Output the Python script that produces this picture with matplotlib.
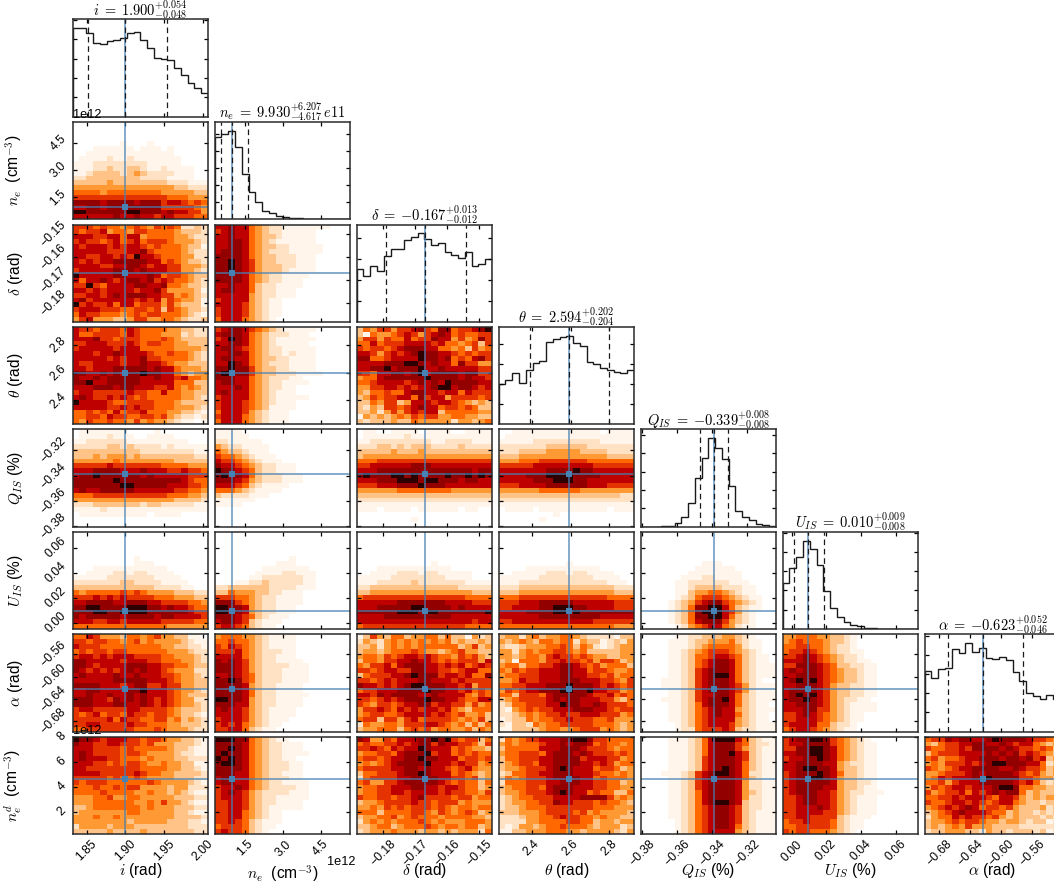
import numpy as np
import matplotlib
matplotlib.use("Agg")
import matplotlib.pyplot as plt

plt.rcParams['font.family'] = ['Liberation Sans', 'DejaVu Sans']
plt.rcParams['mathtext.fontset'] = 'cm'

# ---------- axes ranges, ticks, labels ----------
names = ['i', 'ne', 'delta', 'theta', 'Q', 'U', 'alpha', 'nd']
limits = {'i': (1.832, 2.0065), 'ne': (0.30, 5.645), 'delta': (-0.18807, -0.14606),
          'theta': (2.23, 2.927), 'Q': (-0.3806, -0.3034), 'U': (-0.0052, 0.073),
          'alpha': (-0.6985, -0.5237), 'nd': (0.21, 8.02)}
ticks = {'i': [1.85, 1.90, 1.95, 2.00], 'ne': [1.5, 3.0, 4.5],
         'delta': [-0.18, -0.17, -0.16, -0.15], 'theta': [2.4, 2.6, 2.8],
         'Q': [-0.38, -0.36, -0.34, -0.32], 'U': [0.00, 0.02, 0.04, 0.06],
         'alpha': [-0.68, -0.64, -0.60, -0.56], 'nd': [2, 4, 6, 8]}
tick_labels = {'i': ['1.85', '1.90', '1.95', '2.00'], 'ne': ['1.5', '3.0', '4.5'],
               'delta': ['\u22120.18', '\u22120.17', '\u22120.16', '\u22120.15'],
               'theta': ['2.4', '2.6', '2.8'],
               'Q': ['\u22120.38', '\u22120.36', '\u22120.34', '\u22120.32'],
               'U': ['0.00', '0.02', '0.04', '0.06'],
               'alpha': ['\u22120.68', '\u22120.64', '\u22120.60', '\u22120.56'],
               'nd': ['2', '4', '6', '8']}
axis_labels = {'i': r'$i$ (rad)', 'ne': r'$n_e$  (cm$^{-3}$)', 'delta': r'$\delta$ (rad)',
               'theta': r'$\theta$ (rad)', 'Q': r'$Q_{IS}$ (%)', 'U': r'$U_{IS}$ (%)',
               'alpha': r'$\alpha$ (rad)', 'nd': r'$n_e^d$  (cm$^{-3}$)'}
titles = {'i': r'$i\;=\;1.900_{-0.048}^{+0.054}$',
          'ne': r'$n_e\;=\;9.930_{-4.617}^{+6.207}\,e11$',
          'delta': r'$\delta\;=\;{-}0.167_{-0.012}^{+0.013}$',
          'theta': r'$\theta\;=\;2.594_{-0.204}^{+0.202}$',
          'Q': r'$Q_{IS}\;=\;{-}0.339_{-0.008}^{+0.008}$',
          'U': r'$U_{IS}\;=\;0.010_{-0.008}^{+0.009}$',
          'alpha': r'$\alpha\;=\;{-}0.623_{-0.046}^{+0.052}$'}
medians = {'i': 1.900, 'ne': 0.993, 'delta': -0.167, 'theta': 2.594,
           'Q': -0.339, 'U': 0.0095, 'alpha': -0.623, 'nd': 4.6}
quant_low = {'i': 1.852, 'ne': 0.531, 'delta': -0.179, 'theta': 2.390,
             'Q': -0.347, 'U': 0.0015, 'alpha': -0.669}
quant_high = {'i': 1.954, 'ne': 1.614, 'delta': -0.154, 'theta': 2.796,
              'Q': -0.331, 'U': 0.0185, 'alpha': -0.571}

# ---------- 1D histograms (heights) ----------
hist_i = [265, 265, 250, 220, 218, 225, 230, 235, 250, 252, 228, 205, 175, 172, 170, 145, 125, 100, 85, 72]
hist_ne = [246, 258, 266, 218, 136, 83, 53, 26, 18, 11, 7, 5, 3, 2, 1, 0.5, 0, 0, 0, 0]
hist_delta = [157, 137, 168, 153, 197, 217, 217, 245, 253, 265, 248, 230, 237, 210, 200, 190, 210, 167, 173, 189]
hist_theta = [119, 132, 152, 122, 162, 182, 190, 244, 254, 260, 264, 242, 234, 185, 181, 167, 162, 157, 154, 162]
hist_Q = [0, 0, 0.5, 1, 3, 10, 30, 72, 147, 205, 265, 237, 203, 122, 47, 30, 20, 8, 4, 2]
hist_U = [138, 183, 218, 266, 240, 191, 114, 64, 35, 20, 12, 8, 4, 2, 1, 1, 0.5, 0.5, 0, 0]
hist_alpha = [181, 161, 188, 191, 248, 235, 265, 238, 250, 221, 216, 223, 215, 178, 151, 115, 105, 97, 110, 98]
hist_steps = {'i': 58, 'ne': 51.5, 'delta': 63, 'theta': 60, 'Q': 55, 'U': 58, 'alpha': 57.5}

# ---------- 2D histograms: shade level 0-9 per cell, top row first ----------
ne_i = """
00000000000000000000 00000000000000000000 00000000000000000000 00000000000000000000
00000001000100000000 00011111101110100000 00111111111111100000 01111211211111110000
11122222222111110000 11122322332112111100 11233332343222211100 22333333332222111100
33333433333333222111 44444444444444433222 55554555555554444433 66666666666666555444
88887888878886776565 77887888888886666654 99888888998887877664 77777787787767766655"""
delta_i = """
66656554565465652232 65667455466555543332 77766775774555544322 67665675675666544432
76777676776565554331 77777666778655554322 77667767697765554422 76767788888775654332
77776677887677664443 67777788878777664432 97777788777875665433 75778767887867655432
66965777788778554332 77676777767786444431 66776787888776645432 78677777767674654431
96766757756664643331 67776665566563654332 57665554565665554321 46744433466445543223"""
theta_i = """
76656665765555443322 75566665765554442322 77786656665556543333 66777666765665544333
67777767775555544443 77767787777655655432 77777676778665555432 76677776778776544333
77677788888787754443 88778787889887754344 87787888887787767554 88977888887777755533
77788878877766754543 67766666766557554433 78766767656555554432 97777655666655543333
77777667676655544432 55656575667555443321 55665766556656432212 54655655464544321101"""
Q_i = """
01111111000010000000 01111211100111100000 11222222111111111000 22222332322221211111
33333333332222222211 33343444343333333322 44444454444444433333 66666766666665555444
77788887778777667665 78898888887877777666 88888898888888887655 88888889988888777665
78778888877777766554 55566666666666555443 44444444444444433332 22233333332332222211
11112111111111111111 01111111111011110000 00000000000000000000 00000000000000000000"""
U_i = """
00000000000000000000 00000000000000000000 00000000000000000000 00000000000000000000
00000000000000000000 00000000010000000000 00000000011100000000 00011111111111000000
00111122122111100000 11111222222211110000 22222223322221111000 33333333333322221100
54555556565444433322 66676767666655544433 77888877888776666554 88998888999887877655
88899889999888888766 87888887888878877776 77766776777776666655 55555555555555444444"""
alpha_i = """
55764443554564433110 66566554564544443211 76665555555554433221 56566566555555444322
67767677766665544432 88777776777665554432 88767777888776655433 87676767878776544422
78777787787776654432 77777788888777654433 88887776788667664433 77887777889777654432
77877877878777654333 88877687878767654422 88877788778767654432 67766666776666543332
65675665766566543321 66666757665566453432 66776666766555443332 55666666655565444322"""
nd_i = """
98876777665665443321 87766776665644433321 77766665655555433211 78766665665444432211
78777665554544433222 77766565665445443311 77666666665555443321 77776666676554433332
66666565565444433322 65666555555654444321 55565565664444344222 55556555544544343211
44455644554444433322 44455555544546443211 33455555554544433322 34444444554444433211
44454454444444433332 44444444344444333221 24444344433333333222 33333433334333333322"""
delta_ne = """
77877543221111111000 67877543221111100000 77877543321111100000 77887543211111100000
77887543322111110000 78887543222111110000 88887543322211100000 88987643322211100000
88987643332211100000 88987643332111100000 88887543221111000000 88887543221110000000
77877532211110000000 78877532211100000000 77777432211100000000 67777432110000000000
77776432110000000000 67776432110000000000 67776432110000000000 57775432100000000000"""
theta_ne = """
67887654321111100000 78887543222111000000 67987543211111100000 77887543211111000000
78876543221111100000 77887543221211100000 78877543322111100000 77987543222111100000
88988643322111100000 89988643322211110000 88877543222110000000 78877543221111000000
77787543221100000000 78777543211100000000 67777543211111000000 67776543211100000000
67776543111100000000 57776432111000000000 67775432111000000000 57775432111000000000"""
Q_ne = """
11110000000000000000 11111000000000000000 22111110000000000000 43221111000000000000
54332111000000000000 65543211100000000000 76654321110000000000 87765432211100000000
98876532211100000000 89887532221110000000 88876432221110000000 77765321111000000000
55543211110000000000 32222111000000000000 11111100000000000000 11110000000000000000
00000000000000000000 00000000000000000000 00000000000000000000 00000000000000000000"""
U_ne = """
00000000000000000000 00000000000000000000 00000000000000000000 00000000000000000000
00000000000000000000 00000000000100000000 00000000011100000000 00000001111111000000
00000011112211100000 00000112222221100000 00011223222221100000 22333333222211100000
33544433221110000000 66655432211110000000 88865432211110000000 99887432211100000000
99887432211100000000 88876532111000000000 78876321110000000000 67765321100000000000"""
alpha_ne = """
45554432111100000000 55655432111100000000 65765432111100000000 66675432221100000000
77775432211100000000 87876432211110000000 88876432222111000000 88876432221111000000
77876532221111000000 88986532221111000000 88887432211110000000 88887532211110000000
88887532211111000000 99887432211110000000 88877432211110000000 78776432111100000000
77776432111100000000 67776432111000000000 67675432110000000000 66775321100000000000"""
nd_ne = """
99988543211000000000 88887543221110000000 88987543221110000000 89887543221111000000
98987543221100000000 89987543222110000000 88887543222110000000 88877543221110000000
78877543222110000000 78877543221111000000 67787543222211000000 67876432222111000000
67776432211111000000 66776432211110000000 66776432111110000000 66775432110000000000
66775432110000000000 66765321110000000000 56665321100000000000 67665321000000000000"""
theta_delta = """
35466466786588566789 31544567646787565566 46646557566877464586 55756667777675545636
65665678887755453645 77646767898877656566 88556777798878565786 77778889987877586644
77889788897787777766 66577887897888878866 45578888889888878776 55677776787879888877
44667767677899788767 43556557887767757666 34656677586774666656 33546634777677654343
32436656787756656533 33424646767735555544 14343454656644554433 32333433544444244345"""
Q_delta = """
01100111101111001111 01111112111111111111 11222222222112222111 22233232333222232222
33333433343333333333 34444444444444444444 55566666666666666666 66777777888777777777
77788888888888888788 89888998988889889898 77788899989988878877 66677788898887777777
44444455555555444444 33333333333333333333 22222222222222222222 11111111111111111111
11101111011111101100 00000000000000000000 00000000100000000000 00000000000000000000"""
U_delta = """
00000000000000000000 00000000000000000000 00000000000000000000 00000000000000000000
00000000000000000000 00000000000000000000 00000000000100000000 00011111111111000000
00111122212211111000 11111222222221111000 11122222322222221111 22333333333333322222
33444444444444444333 56666666666666665555 77777788888887777666 77788888998888787777
88888899989988888889 77778888888888777777 77777777777777777677 56666666666666665555"""
alpha_delta = """
13643553445535331423 24324545454545343343 33424545455555534634 34434555654434564433
45546567767655465643 35546677877656566647 54667578887767675676 66567766887766567755
35666778988867767558 66567677788777676666 87767678998887767466 56677788889887767565
77687888877877775465 66567678889887765577 65466567788677664645 46676576767767543555
45665567777676564453 56636646756666545463 25445546667765453535 34455535656455445354"""
nd_delta = """
87446577788989656635 56556676788687766536 66765767798777565443 45566578889677565655
56656778898877756656 45456788889777676645 56666778878776567544 35566678898777565434
25666677888877665634 56446678888876565535 45566777887767765534 45566776777767665546
65566566786666566455 34456666766566645444 44546565666565455455 55535555665465456534
34455645655545555443 24545455565454445554 33455345556545545534 23444544434434344425"""
Q_theta = """
00111111111111101111 01111111111111111111 11111222222222211111 22222223333332222222
22233334444433332222 33344444444444443333 44455566666665555555 66666777777777666666
77777778888988777777 77778889999888877777 77777888999887777777 66677778888887776666
44444455555544444444 33333333333333333322 22222222222222222222 11111111111111111111
01111011111111110111 00000000100000000000 00000010000000000000 00000000000000000000"""
U_theta = """
00000000000000000000 00000000000000000000 00000000000000000000 00000000000000000000
00000000000000000000 00000000000000000000 00000000001000000000 00001111111111100000
00111112221221111000 11111122222222111100 11122222222222221110 22233333333333333222
33344444444444444333 55566666666666665555 66677788888777777666 66777788999887777666
77778888998988888888 77777788888888877777 66777777777777666666 55555555555555555444"""
alpha_theta = """
34424534455432222133 43454355455243312324 32234445565354212344 44245455665453333344
44345546766565443344 34155546676656466534 45535566788765645553 54656677788775665445
45566677788776656455 44576677788877766546 55667778889888767656 46567788899889776645
55366657888887667565 34566667878877766435 23556667798877876665 21456566777888776566
22345456676677766645 12335455667666556444 21332545566666555434 11333345544566645434"""
nd_theta = """
25456677788998665555 45455567787887565545 35555577788876665455 45566657888787666565
35566677888867776645 34566577888877676455 34456667898777566534 23556677888777655454
35456667888877565554 25556667788877665534 34556657888777665544 34456667898775655335
23455666777788886454 23445566877666565543 23345556666666555444 33344456666564544443
22234455676655454433 22224455556655344344 21244345565554344423 11334445554434444324"""
U_Q = """
00000000000000000000 00000000000000000000 00000000000000000000 00000000000000000000
00000000000000000000 00000000000000000000 00000000011100000000 00000000111111000000
00000001111111100000 00000011122111100000 00000112222221110000 00000112333322211000
00000113445543211000 00000123566654321100 00001234678865432100 00001235889975321100
00001235899976421000 00001235889975321000 00001235788864321000 00000124567754211000"""
alpha_Q = """
00000112233344321000 00001112334445321100 00001112345555421100 00001123456665432100
00001123556776532110 00001123567887532110 00001123567887532111 00001123678887532111
00001123678997532111 00011123678887532100 00011123678887642111 00001123678887642111
00001123677887532111 00011123678897532111 00001123578887532110 00001123567877432111
00001123567877532110 00001123567777432110 00000123567776432111 00000122566676322111"""
nd_Q = """
00001112357999753211 00001112357888653221 00001112357888643211 00001112357889763211
00001112367888763211 00001112367888753211 00001112367898753211 00011123678998752211
00001123678888753211 00001123678888742211 00001123678888742211 00001123578888743211
00001123578888742211 00001123578998732211 00001123567887632211 00001123567887632111
00001123567887632111 00000123567887632111 00000123567887532111 00000123567777432111"""
alpha_U = """
44555443321000000000 45655543321000000000 55665543221000000000 56676543221100000000
66787654322100000000 77787654322110000000 66888765332211000000 78788765433211000000
77888765433211000000 78989765433211000000 77888764332211000000 78888764332211000000
78989764332211000000 78898764322110000000 77888764321111000000 77788664321111000000
66787654321100000000 66777654321100000000 67777553221000000000 56776543211000000000"""
nd_U = """
67889986543210000000 67788886543211000000 66889987543211000000 77889987543211000000
67788987543211000000 77888877432211000000 77899887433211000000 67888987533211000000
67889987433211000000 67888887433221000000 67888877433211000000 67888776432211100000
66788776432111000000 66788776432111000000 66777876432111000000 66777766432111000000
66776666321110000000 56676665321100000000 55666665321100000000 65665554321000000000"""
nd_alpha = """
56687887789888876654 43566778877876775434 65566768888787665653 35666777787878676543
56455677888788786734 45466676789988877523 65456778888778766534 44566678788887656434
45767778898888665443 55646777888887675323 46567767778998554433 64566757678788534333
55667677765776434344 65567767656775433233 45676787566564333423 34567877765534332323
24557676656434333232 34456566544344323312 34345464443333222222 23344433243323332312"""

panels = {('ne', 'i'): ne_i,
          ('delta', 'i'): delta_i, ('delta', 'ne'): delta_ne,
          ('theta', 'i'): theta_i, ('theta', 'ne'): theta_ne, ('theta', 'delta'): theta_delta,
          ('Q', 'i'): Q_i, ('Q', 'ne'): Q_ne, ('Q', 'delta'): Q_delta, ('Q', 'theta'): Q_theta,
          ('U', 'i'): U_i, ('U', 'ne'): U_ne, ('U', 'delta'): U_delta, ('U', 'theta'): U_theta,
          ('U', 'Q'): U_Q,
          ('alpha', 'i'): alpha_i, ('alpha', 'ne'): alpha_ne, ('alpha', 'delta'): alpha_delta,
          ('alpha', 'theta'): alpha_theta, ('alpha', 'Q'): alpha_Q, ('alpha', 'U'): alpha_U,
          ('nd', 'i'): nd_i, ('nd', 'ne'): nd_ne, ('nd', 'delta'): nd_delta,
          ('nd', 'theta'): nd_theta, ('nd', 'Q'): nd_Q, ('nd', 'U'): nd_U, ('nd', 'alpha'): nd_alpha}
hists = {'i': hist_i, 'ne': hist_ne, 'delta': hist_delta, 'theta': hist_theta,
         'Q': hist_Q, 'U': hist_U, 'alpha': hist_alpha}

# shade of each level on the colour map
shade = np.array([0.0, 0.02, 0.06, 0.12, 0.20, 0.30, 0.40, 0.50, 0.62, 0.88])

W, H = 1054, 888
col_left = [72.7, 214.7, 356.7, 498.7, 640.7, 782.7, 924.7]
row_top = [19.3, 122.0, 224.6, 326.9, 429.4, 531.7, 634.2, 736.7]
AW, AH = 135.3, 97.3

fig = plt.figure(figsize=(W / 100, H / 100), dpi=100)


def make_axes(r, c):
    return fig.add_axes([col_left[c] / W, 1 - (row_top[r] + AH) / H, AW / W, AH / H])


def style(ax):
    ax.tick_params(which='both', direction='in', top=True, right=True, length=3.2, width=0.9,
                   labelsize=8.8, pad=3)
    for s in ax.spines.values():
        s.set_linewidth(1.1)
        s.set_color('#2a2a2a')


for (ry, cx), text in panels.items():
    r, c = names.index(ry), names.index(cx)
    ax = make_axes(r, c)
    levels = np.array([[int(ch) for ch in row[:20].ljust(20, '0')] for row in text.split()])[::-1]
    xe = np.linspace(*limits[cx], 21)
    ye = np.linspace(*limits[ry], 21)
    ax.pcolormesh(xe, ye, shade[levels], cmap='gist_heat_r', vmin=0, vmax=1,
                  shading='flat', rasterized=True)
    ax.axvline(medians[cx], color='#4682b4', lw=1.1, alpha=0.85)
    ax.axhline(medians[ry], color='#4682b4', lw=1.1, alpha=0.85)
    ax.plot([medians[cx]], [medians[ry]], 's', color='#4682b4', ms=4.6, mew=0)
    ax.set_xlim(limits[cx])
    ax.set_ylim(limits[ry])
    ax.set_xticks(ticks[cx])
    ax.set_yticks(ticks[ry])
    style(ax)
    if r == 7:
        ax.set_xticklabels(tick_labels[cx], rotation=45)
        ax.set_xlabel(axis_labels[cx], fontsize=11.2)
        ax.xaxis.set_label_coords(0.5, -0.38 if cx != 'ne' else -0.41)
        ax.xaxis.label.set_verticalalignment('center')
    else:
        ax.set_xticklabels([])
    if c == 0:
        ax.set_yticklabels(tick_labels[ry], rotation=45, va='center')
        ax.set_ylabel(axis_labels[ry], fontsize=11.2)
        ax.yaxis.set_label_coords(-0.35, 0.5)
    else:
        ax.set_yticklabels([])

for k, name in enumerate(names[:7]):
    ax = make_axes(k, k)
    values = np.array(hists[name])
    ax.stairs(values, np.linspace(*limits[name], 21), color='#1a1a1a', lw=1.0)
    ax.axvline(medians[name], color='#4682b4', lw=1.1, alpha=0.85)
    for q in (quant_low[name], medians[name], quant_high[name]):
        ax.axvline(q, color='#1a1a1a', lw=0.9, ls=(0, (4.5, 3)))
    ax.set_xlim(limits[name])
    ax.set_xticks(ticks[name])
    ax.set_yticks(np.arange(1, 6) * hist_steps[name])
    ax.set_ylim(0, values.max() * 1.1)
    ax.set_xticklabels([])
    ax.set_yticklabels([])
    style(ax)
    ax.set_title(titles[name], fontsize=10.4, y=1.0, pad=2.6)


def px_text(x, y, s):
    fig.text(x / W, 1 - y / H, s, fontsize=9.2, ha='left', va='center')


px_text(73, 115.5, '1e12')
px_text(73, 730.5, '1e12')
px_text(327, 862, '1e12')

fig.savefig('out.png', dpi=100)
